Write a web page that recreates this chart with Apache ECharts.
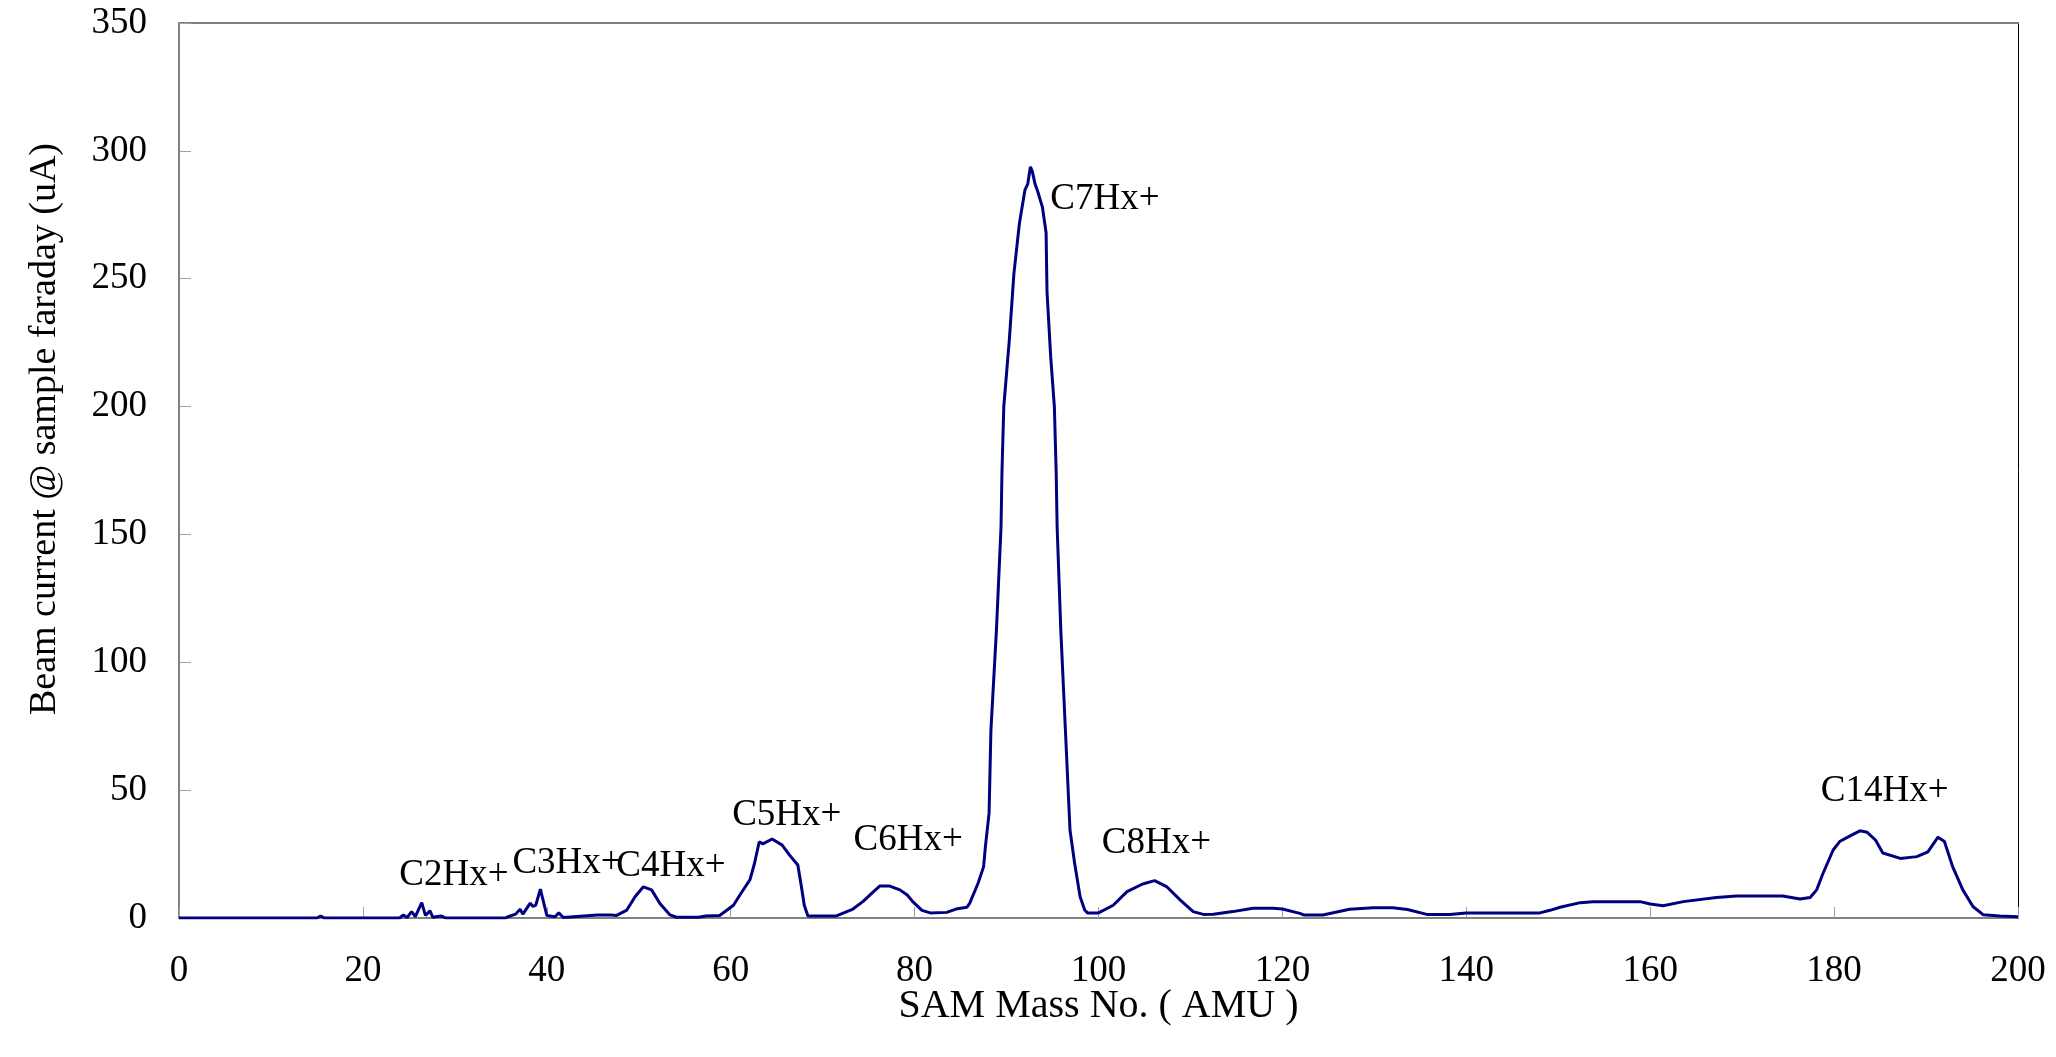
<!DOCTYPE html>
<html>
<head>
<meta charset="utf-8">
<script src="https://cdn.jsdelivr.net/npm/echarts@6/dist/echarts.min.js"></script>
<style>
  html, body { margin: 0; padding: 0; background: #fff; }
  #main { width: 2056px; height: 1057px; }
</style>
</head>
<body>
<div id="main"></div>
<script>
// mass scan
var amu = [
  0, 15, 15.4, 15.8, 24, 24.4, 24.8, 25.3, 25.7, 26.4, 26.8, 27.3, 27.6, 28.5, 29,
  35.5, 35.8, 36.6, 37.1, 37.4, 38.2, 38.5, 38.8, 39.3, 39.8, 40, 40.9, 41.3, 41.8,
  42.9, 44, 45.5, 47, 47.6, 48.7, 49.6, 50.5, 51.4, 52.3, 53.4, 54.1, 56.5, 57.3,
  58.8, 60.3, 61, 62.1, 62.6, 63.1, 63.5, 64.5, 65.6, 66.4, 67.3, 67.7, 68, 68.4,
  71.5, 72.3, 73.3, 74.4, 75.3, 76.2, 77.3, 78.4, 79.2, 79.8, 80.8, 81.7, 83.5,
  84.5, 85.7, 86, 86.9, 87.5, 87.7, 88.1, 88.3, 88.9, 89.4, 89.5, 89.7, 90.3, 90.8,
  91.4, 92.0, 92.3, 92.6, 92.8, 93.1, 93.4, 93.9, 94.3, 94.4, 94.8, 95.2, 95.4,
  95.5, 95.9, 96.4, 96.9, 97.4, 98, 98.5, 98.8, 100, 100.2, 101.6, 103.1, 104.8,
  106.1, 107.4, 108.9, 110.3, 111.4, 112.5, 114.6, 116.8, 119, 120, 121.9, 122.3,
  124.4, 127.3, 129.9, 132, 133.6, 135.7, 138.2, 140, 148, 149.1, 150.2, 152.4,
  153.8, 158.9, 160, 161.4, 163.6, 167.2, 169.4, 174.4, 176.3, 177.4, 178.1, 178.8,
  179.9, 180.6, 181.7, 182.8, 183.6, 184.5, 185.3, 187.2, 189, 190.2, 191.3, 192,
  192.9, 194, 195.1, 196.2, 198, 200
];
var current = [
  0, 0, 0.8, 0, 0, 1.2, 0.2, 2.5, 0.5, 6, 1, 2.8, 0.3, 0.8, 0,
  0, 0.5, 1.5, 3.4, 1.5, 5.8, 4.5, 5, 11.3, 4, 1, 0.5, 2, 0.2,
  0.5, 0.8, 1.2, 1.2, 1, 3.1, 8.3, 12.2, 11, 5.7, 1.2, 0.3, 0.3, 0.8,
  1, 5, 9, 15, 21.5, 29.8, 29, 30.9, 28.5, 24.6, 20.7, 12, 5, 0.8,
  0.8, 2, 3.5, 6.5, 9.5, 12.5, 12.5, 11, 9, 6.4, 3, 2, 2.2,
  3.5, 4.2, 5.8, 13.6, 20, 27.9, 41, 73.5, 112.6, 153, 174, 200, 226, 252,
  271.7, 284.7, 287, 293.8, 292, 287, 284, 278, 268, 245, 219.5, 200, 174,
  153, 112.6, 73.5, 34.4, 21.5, 8.3, 3.1, 2, 2, 2.5, 5, 10.3, 13.3,
  14.6, 12.3, 7, 2.5, 1.4, 1.5, 2.5, 3.8, 3.8, 3.5, 1.8, 1.2,
  1.2, 3.4, 4, 4, 3.3, 1.4, 1.4, 2, 2, 3, 4.2, 6,
  6.4, 6.4, 5.5, 4.8, 6.4, 8, 8.6, 8.6, 7.4, 8, 11, 17.5,
  26.6, 29.9, 32, 34.1, 33.5, 30.5, 25.4, 23.3, 24, 25.9, 31.6, 29.9,
  20, 11, 4.5, 1.3, 0.8, 0.5
];

// peak annotations (data coordinates of label centres)
var peakNames = ["C2Hx+", "C3Hx+", "C4Hx+", "C5Hx+", "C6Hx+", "C7Hx+", "C8Hx+", "C14Hx+"];
var peakX = [29.9, 42.2, 53.5, 66.1, 79.3, 100.7, 106.3, 185.5];
var peakY = [16.8, 21.5, 20.1, 40.3, 30.5, 281, 29.3, 49.4];

var xTicks = [0, 20, 40, 60, 80, 100, 120, 140, 160, 180, 200];
var yTicks = [0, 50, 100, 150, 200, 250, 300, 350];

var FONT = "Liberation Serif";

var chart = echarts.init(document.getElementById("main"));

var points = amu.map(function (x, i) { return [x, current[i]]; });
var marks = peakNames.map(function (n, i) {
  return { name: n, coord: [peakX[i], peakY[i]] };
});

var option = {
  animation: false,
  backgroundColor: "#fff",
  grid: { left: 179, right: 38, top: 23, bottom: 139 },
  xAxis: [
    {
      type: "value",
      min: xTicks[0],
      max: xTicks[xTicks.length - 1],
      interval: 20,
      name: "SAM Mass No. ( AMU )",
      nameLocation: "middle",
      nameGap: 68,
      nameMoveOverlap: false,
      nameTextStyle: { fontFamily: FONT, fontSize: 40, color: "#000" },
      axisLine: { lineStyle: { color: "#808080", width: 2 } },
      axisTick: { inside: true, length: 11, lineStyle: { color: "#a0a0a0", width: 1 } },
      axisLabel: { margin: 35, fontFamily: FONT, fontSize: 37, color: "#000" },
      splitLine: { show: false }
    },
    {
      type: "value",
      position: "top",
      min: 0, max: 200,
      axisLine: { show: true, onZero: false, lineStyle: { color: "#808080", width: 2 } },
      axisTick: { show: false },
      axisLabel: { show: false },
      splitLine: { show: false }
    }
  ],
  yAxis: [
    {
      type: "value",
      min: yTicks[0],
      max: yTicks[yTicks.length - 1],
      interval: 50,
      axisLine: { show: true, lineStyle: { color: "#808080", width: 2 } },
      axisTick: { show: true, inside: true, length: 12, lineStyle: { color: "#a0a0a0", width: 1 } },
      axisLabel: { margin: 32, fontFamily: FONT, fontSize: 37, color: "#000" },
      splitLine: { show: false }
    },
    {
      type: "value",
      position: "right",
      min: 0, max: 350,
      axisLine: { show: true, onZero: false, lineStyle: { color: "#000", width: 1 } },
      axisTick: { show: false },
      axisLabel: { show: false },
      splitLine: { show: false }
    }
  ],
  graphic: [
    {
      type: "text",
      x: 45,
      y: 429,
      rotation: Math.PI / 2,
      style: {
        text: "Beam current @ sample faraday (uA)",
        fontFamily: FONT,
        fontSize: 38,
        fill: "#000",
        align: "center",
        verticalAlign: "middle"
      }
    }
  ],
  series: [
    {
      type: "line",
      data: points,
      showSymbol: false,
      lineStyle: { color: "#000080", width: 3 },
      markPoint: {
        symbol: "circle",
        symbolSize: 0,
        silent: true,
        label: {
          show: true,
          position: "inside",
          formatter: "{b}",
          fontFamily: FONT,
          fontSize: 37,
          color: "#000"
        },
        data: marks
      }
    }
  ]
};

chart.setOption(option);
</script>
</body>
</html>
